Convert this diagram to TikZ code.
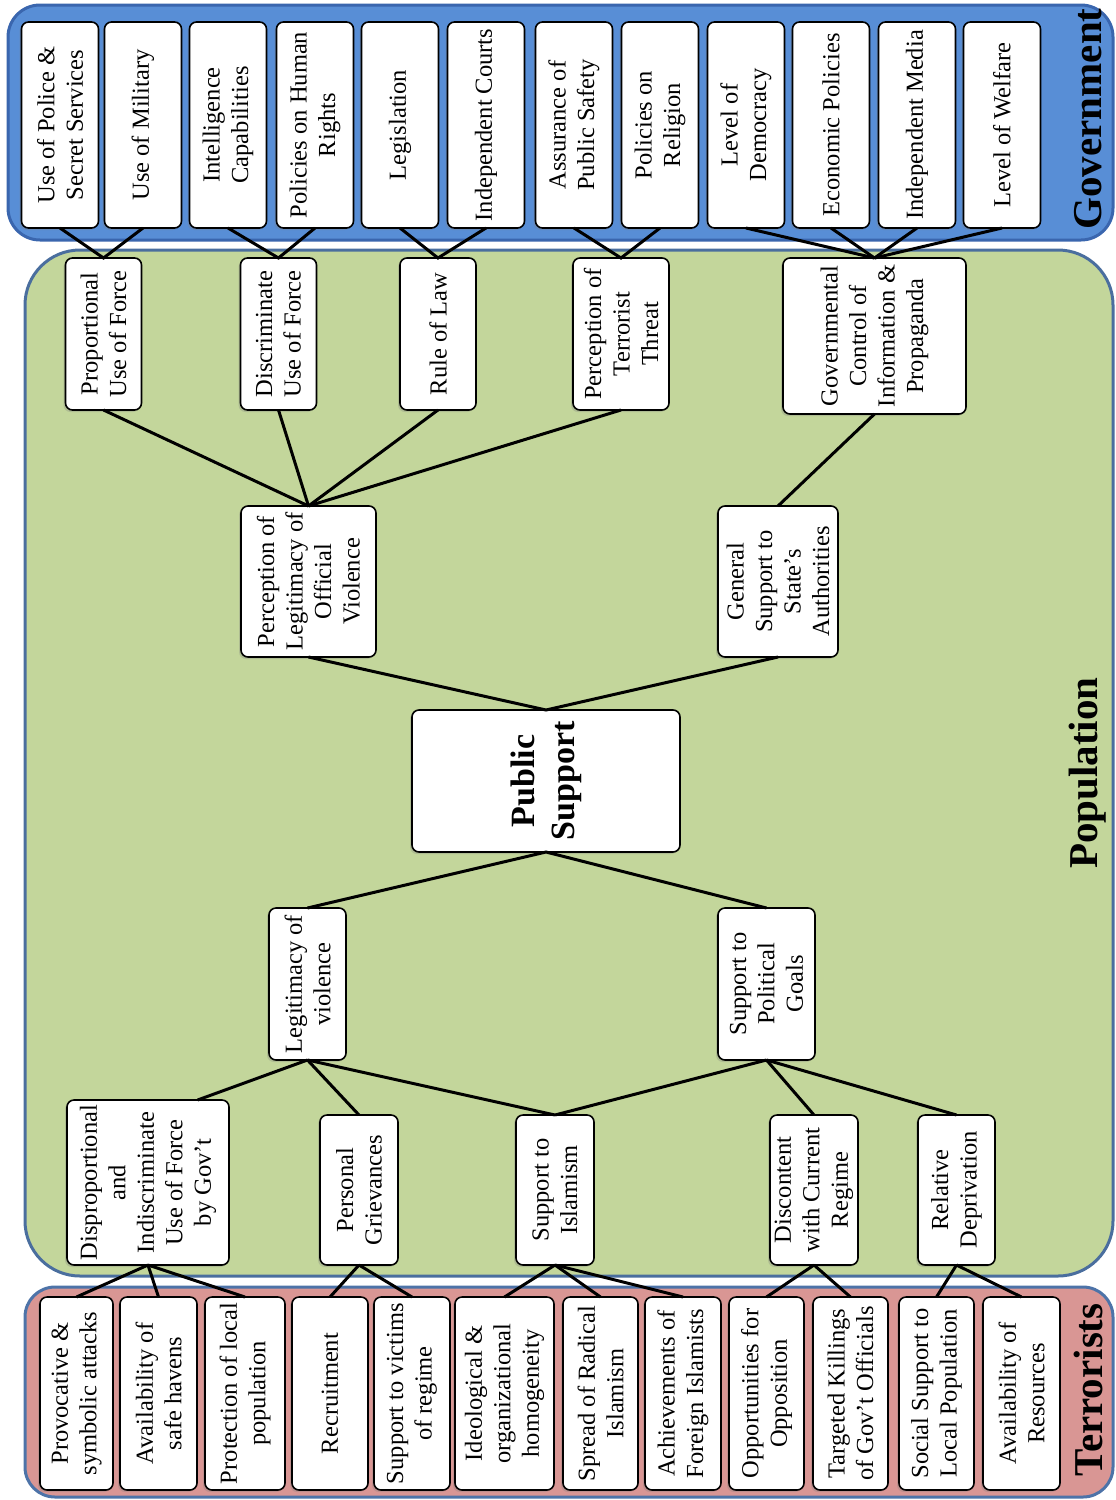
\documentclass[tikz,border=0pt]{standalone}
\usepackage{fontspec}
\setmainfont{Liberation Serif}
\usetikzlibrary{shadows}
\definecolor{govblue}{HTML}{588ED6}
\definecolor{govedge}{HTML}{3A66AE}
\definecolor{popgreen}{HTML}{C3D69B}
\definecolor{popedge}{HTML}{4A6E9E}
\definecolor{terpink}{HTML}{D99694}
\definecolor{teredge}{HTML}{4D73A8}
\tikzset{
  box/.style={draw, line width=1.6pt, rounded corners=7pt, fill=white, rotate=90,
    align=center, inner sep=0pt, outer sep=0pt, font=\fontsize{24.5}{28.5}\selectfont,
    drop shadow={shadow xshift=-2pt, shadow yshift=-2pt, opacity=.3}},
  gbox/.style={box, minimum width=206, minimum height=77},
  tbox/.style={box, minimum width=193, minimum height=76},
  link/.style={line width=3pt},
  paneltitle/.style={rotate=90, inner sep=0pt, font=\fontsize{41}{48}\selectfont\bfseries}
}
\begin{document}
\begin{tikzpicture}[x=1pt, y=-1pt]
\useasboundingbox (0,0) rectangle (1116,1500);
\draw[line width=3pt, draw=govedge, fill=govblue, rounded corners=32pt] (8,5) rectangle (1113,240);
\draw[line width=3pt, draw=popedge, fill=popgreen, rounded corners=55pt] (25,250) rectangle (1113,1276);
\draw[line width=3pt, draw=teredge, fill=terpink, rounded corners=30pt] (25,1287) rectangle (1113,1497);
\node[paneltitle] (gov) at (1088,119) {Government};
\node[paneltitle] (pop) at (1088,773) {Population};
\node[paneltitle] (ter) at (1088,1390) {Terrorists};

\node[gbox] (g1) at (60,125) {Use of Police \&\\Secret Services};
\node[gbox] (g2) at (143,125) {Use of Military};
\node[gbox] (g3) at (228,125) {Intelligence\\Capabilities};
\node[gbox] (g4) at (315,125) {Policies on Human\\Rights};
\node[gbox] (g5) at (400,125) {Legislation};
\node[gbox] (g6) at (486,125) {Independent Courts};
\node[gbox] (g7) at (574,125) {Assurance of\\Public Safety};
\node[gbox] (g8) at (660,125) {Policies on\\Religion};
\node[gbox] (g9) at (746,125) {Level of\\Democracy};
\node[gbox] (g10) at (831,125) {Economic Policies};
\node[gbox] (g11) at (917,125) {Independent Media};
\node[gbox] (g12) at (1002,125) {Level of Welfare};

\node[box, minimum width=152, minimum height=76] (prop) at (103.5,334) {Proportional\\Use of Force};
\node[box, minimum width=152, minimum height=76] (discr) at (278.5,334) {Discriminate\\Use of Force};
\node[box, minimum width=152, minimum height=76] (law) at (438,334) {Rule of Law};
\node[box, minimum width=152, minimum height=96] (threat) at (621,334) {Perception of\\Terrorist\\Threat};
\node[box, minimum width=156, minimum height=183] (control) at (874.5,336) {Governmental\\Control of\\Information \&\\Propaganda};

\node[box, minimum width=151, minimum height=135] (legit) at (308.5,581.5) {Perception of\\Legitimacy of\\Official\\Violence};
\node[box, minimum width=151, minimum height=120] (state) at (778,581.5) {General\\Support to\\State’s\\Authorities};

\node[box, minimum width=142, minimum height=268, font=\fontsize{34}{40}\selectfont\bfseries] (public) at (546,781) {Public\\Support};

\node[box, minimum width=152, minimum height=77] (viol) at (307.5,984) {Legitimacy of\\violence};
\node[box, minimum width=152, minimum height=97] (goals) at (766.5,984) {Support to\\Political\\Goals};

\node[box, minimum width=165, minimum height=162] (force) at (148,1182.5) {Disproportional\\and\\Indiscriminate\\Use of Force\\by Gov’t};
\node[box, minimum width=150, minimum height=78] (griev) at (359,1190) {Personal\\Grievances};
\node[box, minimum width=150, minimum height=78] (islam) at (555,1190) {Support to\\Islamism};
\node[box, minimum width=150, minimum height=88] (regime) at (814,1190) {Discontent\\with Current\\Regime};
\node[box, minimum width=150, minimum height=77] (depriv) at (956.5,1190) {Relative\\Deprivation};

\node[tbox, minimum height=73] (t1) at (76.5,1393.5) {Provocative \&\\symbolic attacks};
\node[tbox, minimum height=77] (t2) at (158.5,1393.5) {Availability of\\safe havens};
\node[tbox, minimum height=80] (t3) at (245,1393.5) {Protection of local\\population};
\node[tbox] (t4) at (330,1393.5) {Recruitment};
\node[tbox] (t5) at (412,1393.5) {Support to victims\\of regime};
\node[tbox, minimum height=99] (t6) at (504.5,1393.5) {Ideological \&\\organizational\\homogeneity};
\node[tbox, minimum height=75] (t7) at (600.5,1393.5) {Spread of Radical\\Islamism};
\node[tbox] (t8) at (683,1393.5) {Achievements of\\Foreign Islamists};
\node[tbox, minimum height=75] (t9) at (766.5,1393.5) {Opportunities for\\Opposition};
\node[tbox, minimum height=75] (t10) at (850.5,1393.5) {Targeted Killings\\of Gov’t Officials};
\node[tbox, minimum height=75] (t11) at (936.5,1393.5) {Social Support to\\Local Population};
\node[tbox, minimum height=77] (t12) at (1021.5,1393.5) {Availability of\\Resources};

\draw[link] (g1.west) -- (prop.east) -- (g2.west);
\draw[link] (g3.west) -- (discr.east) -- (g4.west);
\draw[link] (g5.west) -- (law.east) -- (g6.west);
\draw[link] (g7.west) -- (threat.east) -- (g8.west);
\draw[link] (g9.west) -- (control.east);
\draw[link] (g10.west) -- (control.east);
\draw[link] (g11.west) -- (control.east);
\draw[link] (g12.west) -- (control.east);

\draw[link] (prop.west) -- (legit.east);
\draw[link] (discr.west) -- (legit.east);
\draw[link] (law.west) -- (legit.east);
\draw[link] (threat.west) -- (legit.east);
\draw[link] (control.west) -- (state.east);

\draw[link] (legit.west) -- (public.east) -- (state.west);
\draw[link] (viol.east) -- (public.west) -- (goals.east);

\draw[link] (viol.west) -- (force.-31);
\draw[link] (viol.west) -- (griev.east);
\draw[link] (viol.west) -- (islam.east);
\draw[link] (goals.west) -- (islam.east);
\draw[link] (goals.west) -- (regime.east);
\draw[link] (goals.west) -- (depriv.east);

\draw[link] (force.west) -- (t1.east);
\draw[link] (force.west) -- (t2.east);
\draw[link] (force.west) -- (t3.east);
\draw[link] (griev.west) -- (t4.east);
\draw[link] (griev.west) -- (t5.east);
\draw[link] (islam.west) -- (t6.east);
\draw[link] (islam.west) -- (t7.east);
\draw[link] (islam.west) -- (t8.east);
\draw[link] (regime.west) -- (t9.east);
\draw[link] (regime.west) -- (t10.east);
\draw[link] (depriv.west) -- (t11.east);
\draw[link] (depriv.west) -- (t12.east);
\end{tikzpicture}
\end{document}
